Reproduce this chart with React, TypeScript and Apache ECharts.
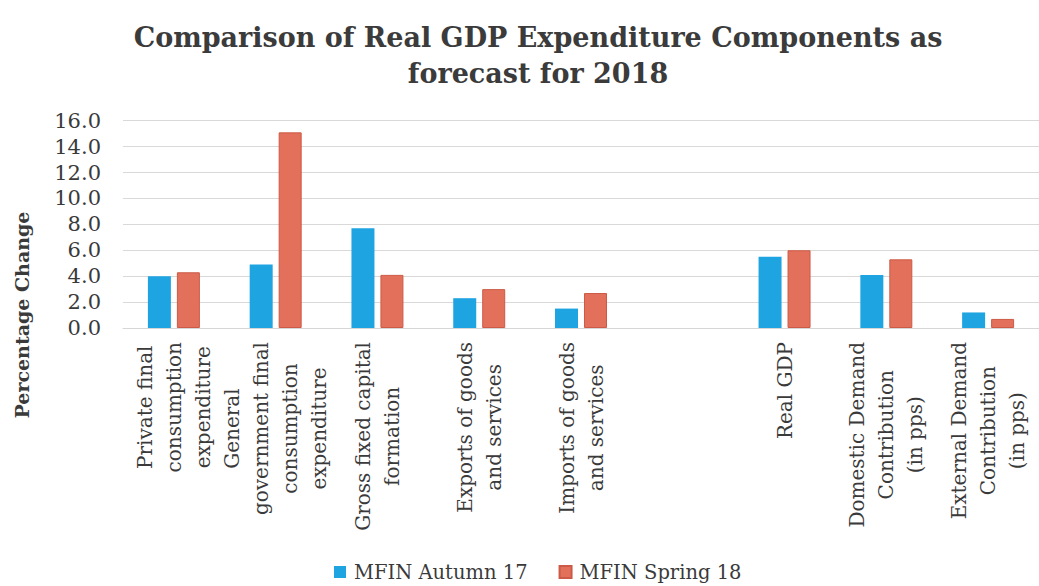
import React, { useEffect, useRef } from "react";
import * as echarts from "echarts";

const categories = [
  "Private final\nconsumption\nexpenditure",
  "General\ngovernment final\nconsumption\nexpenditure",
  "Gross fixed capital\nformation",
  "Exports of goods\nand services",
  "Imports of goods\nand services",
  "",
  "Real GDP",
  "Domestic Demand\nContribution\n(in pps)",
  "External Demand\nContribution\n(in pps)",
];
const autumn17 = [4.0, 4.9, 7.7, 2.3, 1.5, null, 5.5, 4.1, 1.2];
const spring18 = [4.3, 15.1, 4.1, 3.0, 2.7, null, 6.0, 5.3, 0.7];
const seriesNames = ["MFIN Autumn 17", "MFIN Spring 18"];
const titleText = "Comparison of Real GDP Expenditure Components as\nforecast for 2018";
const yAxisName = "Percentage Change";

const FONT = '"DejaVu Serif", "Liberation Serif", serif';
const LABEL_SIZE = 20;

function measure(text: string, size: number): number {
  const c = document.createElement("canvas").getContext("2d");
  if (!c) return text.length * size * 0.6;
  c.font = `${size}px "DejaVu Serif"`;
  return c.measureText(text).width;
}

export default function App() {
  const ref = useRef<HTMLDivElement>(null);
  useEffect(() => {
    if (!ref.current) return;
    const chart = echarts.init(ref.current, undefined, { renderer: "svg" });
    const rich: Record<string, any> = {};
    const formatted: string[] = categories.map((c, i) => {
      if (!c) return "";
      const lines = c.split("\n");
      const widths = lines.map((l) => measure(l, LABEL_SIZE));
      const W = Math.max(...widths);
      return lines
        .map((l, j) => {
          const p = (W - widths[j]) / 2;
          const key = `s${i}_${j}`;
          rich[key] = {
            padding: [0, p, 0, p],
            fontFamily: FONT,
            fontSize: LABEL_SIZE,
            lineHeight: 29,
            color: "#3a3a3a",
          };
          return `{${key}|${l}}`;
        })
        .join("\n");
    });
    chart.setOption({
      animation: false,
      backgroundColor: "#ffffff",
      title: {
        text: titleText,
        left: 533,
        textAlign: "center",
        top: 14,
        textStyle: {
          fontFamily: FONT,
          fontWeight: "bold",
          fontSize: 27,
          lineHeight: 36,
          color: "#3b3b3b",
        },
      },
      legend: {
        bottom: -1,
        left: 329,
        itemWidth: 12,
        itemHeight: 12,
        itemGap: 31,
        icon: "rect",
        textStyle: { fontFamily: FONT, fontSize: 19.5, color: "#3a3a3a", padding: [0, 0, 0, 3] },
        data: seriesNames,
      },
      grid: { left: 123, top: 120.7, bottom: 258, width: 927, containLabel: false },
      xAxis: {
        type: "category",
        data: categories,
        axisLine: { show: true, lineStyle: { color: "#d6d6d6" } },
        axisTick: { show: false },
        axisLabel: {
          interval: 0,
          rotate: 90,
          margin: 14,
          formatter: (v: string) => {
            const i = categories.indexOf(v);
            return i >= 0 ? formatted[i] : "";
          },
          rich,
        },
      },
      yAxis: {
        type: "value",
        min: 0,
        max: 16,
        interval: 2,
        axisLine: { show: false },
        axisTick: { show: false },
        splitLine: { lineStyle: { color: "#d9d9d9" } },
        axisLabel: {
          margin: 22,
          formatter: (v: number) => v.toFixed(1),
          fontFamily: FONT,
          fontSize: 21,
          color: "#3a3a3a",
        },
      },
      graphic: [
        {
          type: "text",
          x: 22,
          y: 315,
          rotation: Math.PI / 2,
          style: {
            text: yAxisName,
            fontFamily: FONT,
            fontWeight: "bold",
            fontSize: 19,
            fill: "#3a3a3a",
            textAlign: "center",
            textVerticalAlign: "middle",
          },
        },
      ],
      series: [
        {
          name: seriesNames[0],
          type: "bar",
          data: autumn17,
          barWidth: 23,
          barGap: "26%",
          itemStyle: { color: "#1fa4e2" },
        },
        {
          name: seriesNames[1],
          type: "bar",
          data: spring18,
          barWidth: 23,
          itemStyle: { color: "#e2705a", borderColor: "#cc5a46", borderWidth: 1 },
        },
      ],
    });
    return () => chart.dispose();
  }, []);
  return <div ref={ref} style={{ width: 1039, height: 586, position: "absolute", left: 0, top: 0 }} />;
}
